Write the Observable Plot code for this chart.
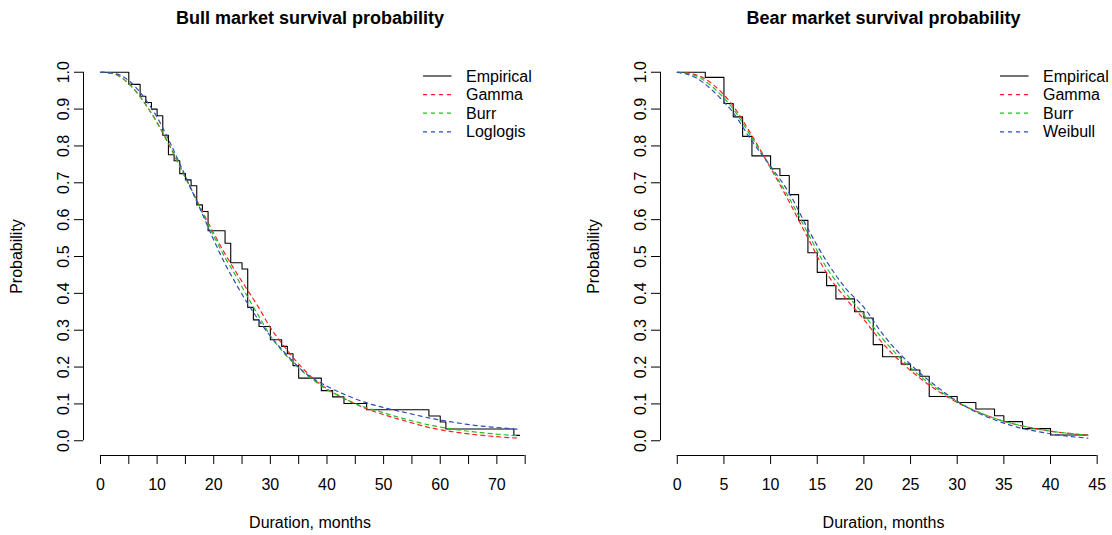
<!DOCTYPE html>
<html>
<head>
<meta charset="utf-8">
<script src="https://cdn.jsdelivr.net/npm/d3@7"></script>
<script src="https://cdn.jsdelivr.net/npm/@observablehq/plot@0.6"></script>
<style>
  html, body { margin: 0; padding: 0; background: #fff; }
  #wrap { display: flex; width: 1112px; height: 535px; }
  #wrap svg { display: block; }
</style>
</head>
<body>
<div id="wrap"></div>
<script>
// ---------- Bull market ----------
const bullEmpT = [0,5,7,8,9,10,11,12,13,14,15,16,17,18,19,22,23,25,26,27,28,30,32,33,34,35,39,41,43,47,58,60,61,73,74];
const bullEmpP = [1.0,0.967,0.935,0.918,0.900,0.882,0.829,0.776,0.760,0.725,0.708,0.692,0.640,0.622,0.570,0.536,0.483,0.466,0.362,0.328,0.310,0.274,0.256,0.236,0.204,0.170,0.136,0.119,0.101,0.084,0.067,0.051,0.032,0.0145,0.0145];
const bullFitT   = [0,2,4,6,8,10,12,14,16,18,20,22,24,26,28,30,32,34,36,38,40,42,44,46,50,54,58,62,66,70,74];
const bullGamma  = [1,0.997,0.982,0.953,0.912,0.863,0.806,0.745,0.684,0.622,0.563,0.507,0.456,0.408,0.36,0.307,0.265,0.226,0.192,0.163,0.141,0.123,0.107,0.093,0.071,0.053,0.036,0.025,0.017,0.011,0.007];
const bullBurr   = [1,0.997,0.982,0.953,0.912,0.864,0.808,0.745,0.682,0.618,0.556,0.497,0.445,0.39,0.337,0.285,0.245,0.212,0.184,0.16,0.139,0.123,0.108,0.095,0.076,0.058,0.043,0.032,0.024,0.018,0.013];
const bullLoglog = [1,0.998,0.988,0.963,0.925,0.878,0.818,0.752,0.684,0.615,0.545,0.48,0.424,0.372,0.326,0.284,0.248,0.215,0.186,0.165,0.148,0.133,0.12,0.108,0.09,0.076,0.062,0.051,0.042,0.036,0.031];
const bullXTicks = d3.range(0, 76, 5);
const bullXLabels = d3.range(0, 71, 10);

// ---------- Bear market ----------
const bearEmpT = [0,3,5,6,7,8,10,11,12,13,14,15,16,17,19,20,21,22,24,25,26,27,30,32,34,35,37,40,44];
const bearEmpP = [1.0,0.986,0.915,0.879,0.826,0.773,0.738,0.72,0.668,0.598,0.51,0.457,0.421,0.385,0.35,0.333,0.261,0.228,0.208,0.192,0.175,0.12,0.104,0.086,0.068,0.052,0.033,0.0155,0.0155];
const bearFitT    = [0,2,4,6,8,10,12,14,16,18,20,22,24,26,28,30,32,34,36,38,40,42,44];
const bearGamma   = [1,0.993,0.963,0.908,0.828,0.74,0.648,0.55,0.455,0.388,0.329,0.265,0.213,0.17,0.134,0.104,0.08,0.061,0.046,0.035,0.026,0.02,0.015];
const bearBurr    = [1,0.99,0.955,0.9,0.822,0.742,0.658,0.563,0.47,0.402,0.342,0.277,0.222,0.176,0.138,0.106,0.081,0.061,0.046,0.035,0.026,0.02,0.015];
const bearWeibull = [1,0.985,0.945,0.89,0.813,0.745,0.672,0.575,0.487,0.415,0.362,0.29,0.232,0.184,0.143,0.107,0.078,0.057,0.04,0.028,0.019,0.012,0.007];
const bearXTicks = d3.range(0, 46, 5);
const bearXLabels = d3.range(0, 46, 5);

const yTicks = d3.range(0, 11).map(d => d / 10);
const colors = {Empirical: "#000000", Gamma: "#ff2020", Burr: "#22c022", Loglogis: "#2f4db5", Weibull: "#2f4db5"};
const FONT = "'Liberation Sans', Arial, Helvetica, sans-serif";
const FS = 16;

function panel(cfg) {
  const emp = cfg.empT.map((t, i) => ({t, p: cfg.empP[i]}));
  const yDomain = [-0.04, 1.04];
  const fitMarks = cfg.fits.map(f =>
    Plot.line(cfg.fitT.map((t, i) => ({t, p: f.values[i]})), {
      x: "t", y: "p", stroke: colors[f.name], strokeWidth: 1.2,
      strokeDasharray: "4,4", curve: "monotone-x"
    })
  );
  const chart = Plot.plot({
    width: 556,
    height: 535,
    marginTop: 57,
    marginBottom: 80,
    marginLeft: cfg.marginLeft,
    marginRight: cfg.marginRight,
    x: {domain: cfg.xDomain, label: null},
    y: {domain: yDomain, label: null},
    style: {fontFamily: FONT, fontSize: FS + "px", background: "white", color: "black", overflow: "visible"},
    marks: [
      Plot.line(emp, {x: "t", y: "p", curve: "step-after", stroke: "black", strokeWidth: 1.1}),
      ...fitMarks,
      // axes
      Plot.ruleY([yDomain[0]], {x1: cfg.xTicks[0], x2: cfg.xTicks[cfg.xTicks.length - 1], stroke: "black"}),
      Plot.ruleX([cfg.xDomain[0]], {y1: yTicks[0], y2: yTicks[yTicks.length - 1], stroke: "black"}),
      Plot.axisX({ticks: cfg.xTicks, tickSize: 9, tickFormat: () => "", stroke: "black"}),
      Plot.axisY({ticks: yTicks, tickSize: 9, tickFormat: () => "", stroke: "black"}),
      Plot.text(cfg.xLabels, {x: d => d, frameAnchor: "bottom", dy: 29, lineAnchor: "middle", textAnchor: "middle", text: d => String(d), fontSize: FS, fill: "black"}),
      Plot.text(yTicks, {y: d => d, frameAnchor: "left", dx: -20, rotate: -90, lineAnchor: "middle", textAnchor: "middle", text: d => d.toFixed(1), fontSize: FS, fill: "black"}),
      // titles
      Plot.text([cfg.title], {frameAnchor: "top", dy: -39, lineAnchor: "middle", textAnchor: "middle", text: d => d, fontSize: 18, fontWeight: "bold", fill: "black"}),
      Plot.text(["Duration, months"], {frameAnchor: "bottom", dy: 67, lineAnchor: "middle", textAnchor: "middle", text: d => d, fontSize: FS, fill: "black"}),
      Plot.text(["Probability"], {frameAnchor: "left", dx: -67, rotate: -90, lineAnchor: "middle", textAnchor: "middle", text: d => d, fontSize: FS, fill: "black"})
    ]
  });
  const svg = chart.tagName.toLowerCase() === "svg" ? chart : chart.querySelector("svg");
  // legend (top-right, no box)
  const names = ["Empirical", ...cfg.fits.map(f => f.name)];
  const g = d3.select(svg).append("g")
    .attr("font-family", FONT).attr("font-size", FS).attr("text-anchor", "start");
  names.forEach((name, i) => {
    const y = 76 + i * 18.6;
    g.append("line")
      .attr("x1", cfg.legendX).attr("x2", cfg.legendX + 28.5)
      .attr("y1", y).attr("y2", y)
      .attr("stroke", colors[name]).attr("stroke-width", name === "Empirical" ? 1.1 : 1.2)
      .attr("stroke-dasharray", name === "Empirical" ? null : "4,4");
    g.append("text")
      .attr("x", cfg.legendX + 43).attr("y", y)
      .attr("dy", "0.35em").attr("fill", "black").attr("text-anchor", "start")
      .text(name);
  });
  return chart;
}

const wrap = document.getElementById("wrap");
wrap.appendChild(panel({
  title: "Bull market survival probability",
  empT: bullEmpT, empP: bullEmpP, fitT: bullFitT,
  fits: [{name: "Gamma", values: bullGamma}, {name: "Burr", values: bullBurr}, {name: "Loglogis", values: bullLoglog}],
  xDomain: [-3, 77], xTicks: bullXTicks, xLabels: bullXLabels,
  marginLeft: 83, marginRight: 20, legendX: 423
}));
wrap.appendChild(panel({
  title: "Bear market survival probability",
  empT: bearEmpT, empP: bearEmpP, fitT: bearFitT,
  fits: [{name: "Gamma", values: bearGamma}, {name: "Burr", values: bearBurr}, {name: "Weibull", values: bearWeibull}],
  xDomain: [-1.8, 46], xTicks: bearXTicks, xLabels: bearXLabels,
  marginLeft: 104, marginRight: 6, legendX: 444
}));
</script>
</body>
</html>
